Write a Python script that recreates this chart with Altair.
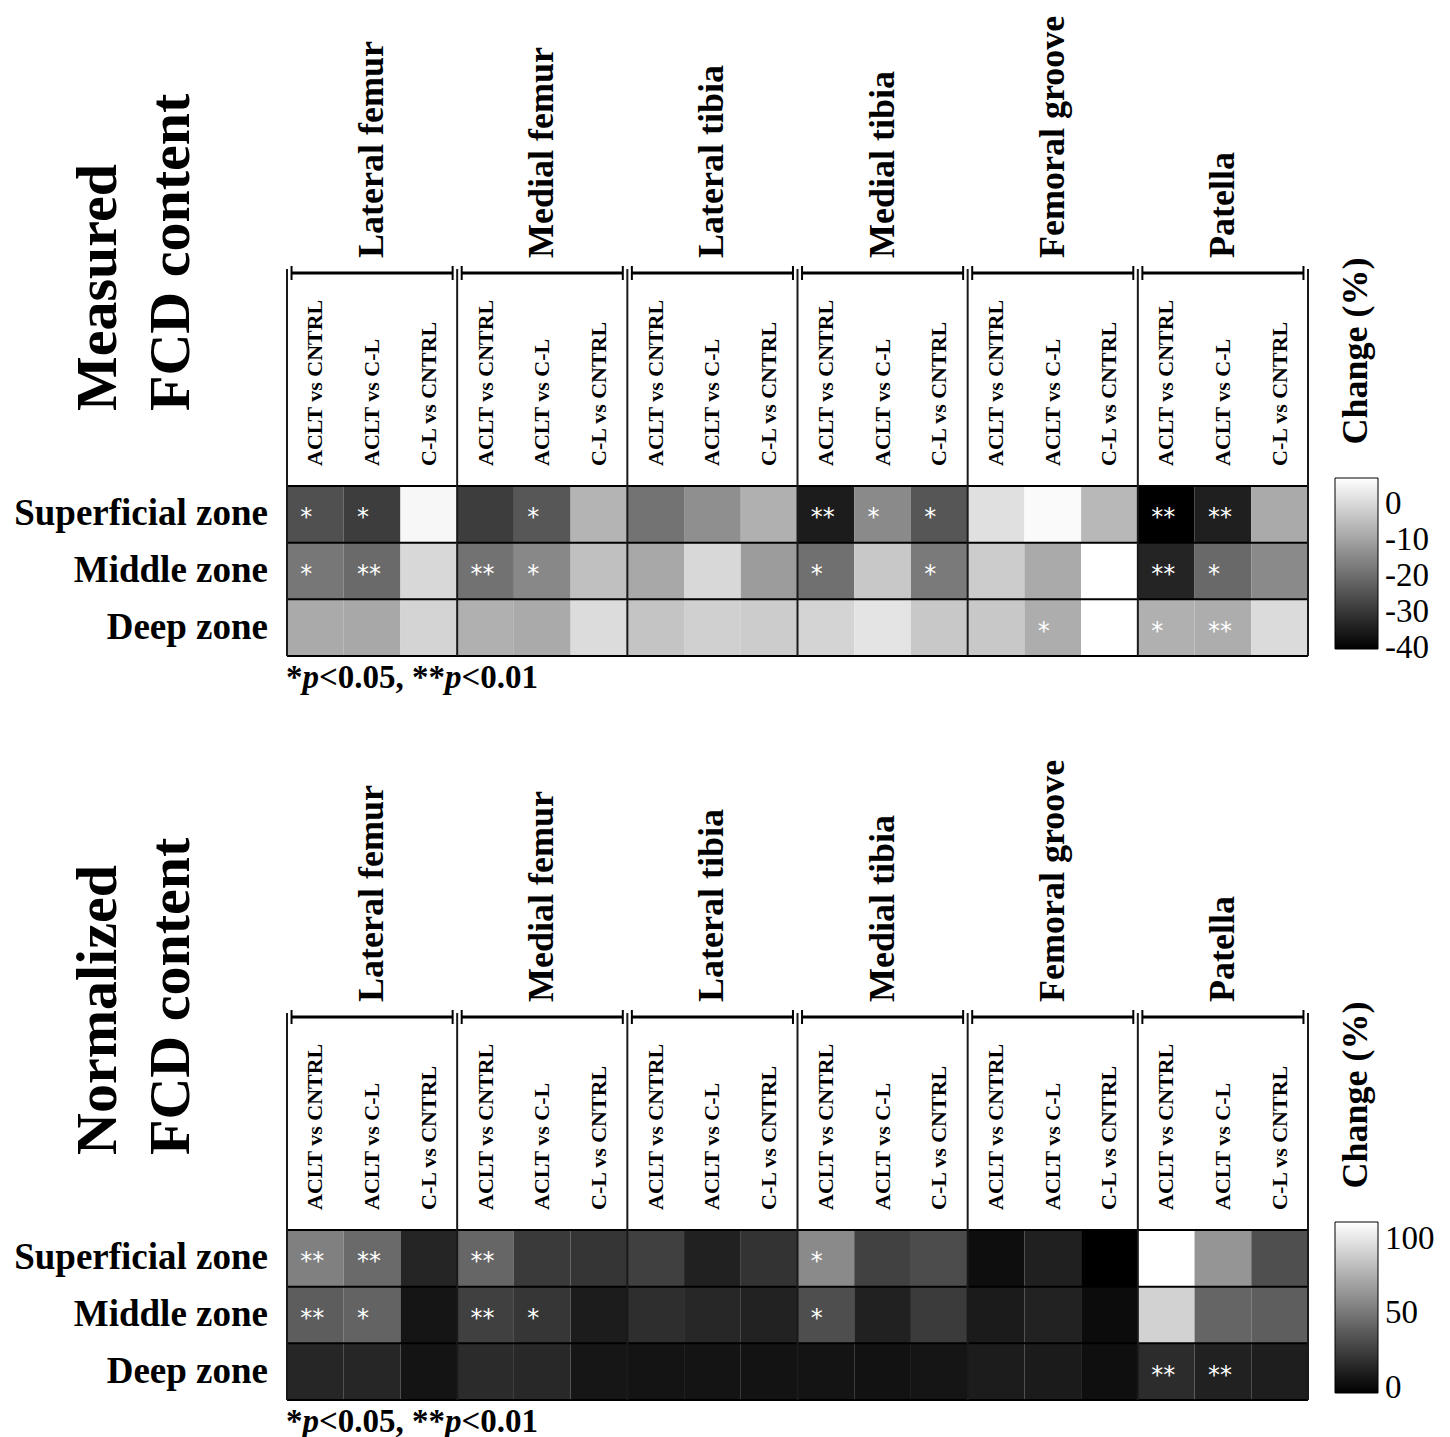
import altair as alt
import pandas as pd

# ---- categories -------------------------------------------------------------
REGIONS = ["Lateral femur", "Medial femur", "Lateral tibia",
           "Medial tibia", "Femoral groove", "Patella"]
COMPARISONS = ["ACLT vs CNTRL", "ACLT vs C-L", "C-L vs CNTRL"]
ZONES = ["Superficial zone", "Middle zone", "Deep zone"]

# ---- measured FCD content, change (%) ----------------------------------------
# 18 columns per zone: region x comparison, in the order above
MEASURED_SUPERFICIAL = [-25.4, -28.8, 5.7, -28.9, -24.0, -6.8, -18.8, -13.6, -7.6,
                        -35.0, -14.6, -24.3, 1.3, 6.1, -6.1, -40.2, -34.5, -8.7]
MEASURED_MIDDLE = [-18.1, -20.5, -0.2, -19.0, -14.9, -4.6, -9.0, -0.2, -11.2,
                   -19.4, -3.1, -17.5, -2.4, -8.7, 7.1, -33.5, -20.8, -14.6]
MEASURED_DEEP = [-8.7, -9.0, -0.9, -7.6, -8.7, 0.7, -3.9, -1.7, -2.4,
                 -0.9, 2.0, -3.1, -3.1, -8.1, 7.1, -7.6, -8.1, 0.5]

MEASURED_SIG_SUPERFICIAL = ["*", "*", "", "", "*", "", "", "", "",
                            "**", "*", "*", "", "", "", "**", "**", ""]
MEASURED_SIG_MIDDLE = ["*", "**", "", "**", "*", "", "", "", "",
                       "*", "", "*", "", "", "", "**", "*", ""]
MEASURED_SIG_DEEP = ["", "", "", "", "", "", "", "", "",
                     "", "", "", "", "*", "", "*", "**", ""]

# ---- normalized FCD content, change (%) --------------------------------------
NORMALIZED_SUPERFICIAL = [54.2, 44.3, 13.2, 42.5, 22.7, 20.4, 25.4, 11.4, 19.5,
                          58.7, 25.8, 30.8, 2.8, 10.9, -3.5, 111.5, 63.7, 32.1]
NORMALIZED_MIDDLE = [38.4, 41.1, 6.0, 25.4, 20.9, 9.1, 17.2, 14.1, 11.8,
                     31.7, 11.4, 23.1, 8.7, 11.8, 1.9, 91.2, 42.0, 38.9]
NORMALIZED_DEEP = [13.6, 13.6, 5.5, 15.9, 14.5, 6.4, 5.5, 5.5, 5.1,
                   5.5, 4.6, 6.0, 9.1, 8.7, 3.3, 16.3, 11.4, 10.0]

NORMALIZED_SIG_SUPERFICIAL = ["**", "**", "", "**", "", "", "", "", "",
                              "*", "", "", "", "", "", "", "", ""]
NORMALIZED_SIG_MIDDLE = ["**", "*", "", "**", "*", "", "", "", "",
                         "*", "", "", "", "", "", "", "", ""]
NORMALIZED_SIG_DEEP = ["", "", "", "", "", "", "", "", "",
                       "", "", "", "", "", "", "**", "**", ""]

MEASURED_TICKS = [0, -10, -20, -30, -40]
NORMALIZED_TICKS = [100, 50, 0]

# ---- layout ------------------------------------------------------------------
N_COMP = len(COMPARISONS)
N_COLS = len(REGIONS) * N_COMP
N_ROWS = len(ZONES)
PLOT_W = 1021
PLOT_H = 170
SERIF = "Liberation Serif"


def cell_table(rows, marks):
    recs = []
    for r, (vals, sig) in enumerate(zip(rows, marks)):
        for c, (v, s) in enumerate(zip(vals, sig)):
            recs.append(dict(row=r, row_end=r + 1, row_mid=r + 0.5,
                             col=c, col_end=c + 1, col_mid=c + 0.5,
                             region=REGIONS[c // N_COMP],
                             comparison=COMPARISONS[c % N_COMP],
                             zone=ZONES[r], change=v, sig=s))
    return pd.DataFrame(recs)


def text_at(label, x, y, **style):
    return alt.Chart(pd.DataFrame({"label": [label]})).mark_text(**style).encode(
        text="label:N", x=alt.value(x), y=alt.value(y))


def panel(title_lines, rows, marks, ticks):
    df = cell_table(rows, marks)
    lo, hi = float(df.change.min()), float(df.change.max())
    xs = alt.Scale(domain=[0, N_COLS], nice=False, zero=False)
    ys = alt.Scale(domain=[0, N_ROWS], nice=False, zero=False, reverse=True)

    def X(field):
        return alt.X(field, scale=xs, axis=None)

    def Y(field):
        return alt.Y(field, scale=ys, axis=None)

    legend = alt.Legend(
        orient="none", legendX=1048, legendY=-8, direction="vertical",
        gradientLength=171, gradientThickness=43, values=ticks,
        labelExpr="datum.value < 0 ? '-' + abs(datum.value) : '' + datum.value",
        labelFont=SERIF, labelFontSize=33, labelColor="black", labelOffset=7,
        labelBaseline="middle", labelOverlap=False,
        gradientStrokeColor="black", gradientStrokeWidth=1)

    cells = alt.Chart(df).mark_rect().encode(
        x=X("col:Q"), x2="col_end:Q",
        y=Y("row:Q"), y2="row_end:Q",
        color=alt.Color("change:Q", title=None, legend=legend,
                        scale=alt.Scale(domain=[lo, hi], range=["#000000", "#ffffff"],
                                        interpolate="rgb", nice=False, zero=False)),
    )

    stars = alt.Chart(df[df.sig != ""]).mark_text(
        align="left", baseline="middle", dx=-15, dy=4,
        font="DejaVu Sans", fontSize=24, color="white").encode(
        x=X("col_mid:Q"), y=Y("row_mid:Q"), text="sig:N")

    # comparison labels in the header box, one per column
    col_df = pd.DataFrame({"comparison": [COMPARISONS[c % N_COMP] for c in range(N_COLS)],
                           "x": [c + 0.5 for c in range(N_COLS)]})
    col_labels = alt.Chart(col_df).mark_text(
        angle=270, align="left", baseline="middle", font=SERIF,
        fontWeight="bold", fontSize=22, color="black").encode(
        x=X("x:Q"), y=alt.value(-20), text="comparison:N")

    # zone labels to the left of the rows
    row_df = pd.DataFrame({"zone": ZONES, "y": [r + 0.5 for r in range(N_ROWS)]})
    row_labels = alt.Chart(row_df).mark_text(
        align="right", baseline="middle", font=SERIF,
        fontWeight="bold", fontSize=37, color="black").encode(
        x=alt.value(-19), y=Y("y:Q"), text="zone:N")

    # horizontal borders between zones
    hl = pd.DataFrame({"y": list(range(N_ROWS + 1)), "x0": 0, "x1": N_COLS})
    hlines = alt.Chart(hl).mark_rule(color="black", strokeWidth=2).encode(
        x=X("x0:Q"), x2="x1:Q", y=Y("y:Q"))

    # vertical separators between regions, running up through the header box
    bounds = [g * N_COMP for g in range(len(REGIONS) + 1)]
    vl = pd.DataFrame({"x": bounds, "y": N_ROWS})
    vlines = alt.Chart(vl).mark_rule(color="#1a1a1a", strokeWidth=2).encode(
        x=X("x:Q"), y=Y("y:Q"), y2=alt.value(-217))

    # brackets under each region name
    inset = 0.08
    br = pd.DataFrame({"x0": [b + inset for b in bounds[:-1]],
                       "x1": [b - inset for b in bounds[1:]]})
    brackets = alt.Chart(br).mark_rule(color="black", strokeWidth=3).encode(
        x=X("x0:Q"), x2="x1:Q", y=alt.value(-213))
    caps = alt.Chart(pd.DataFrame({"x": list(br.x0) + list(br.x1)})).mark_rule(
        color="black", strokeWidth=2).encode(
        x=X("x:Q"), y=alt.value(-220), y2=alt.value(-206))

    gn = pd.DataFrame({"region": REGIONS,
                       "x": [g * N_COMP + N_COMP / 2 for g in range(len(REGIONS))]})
    names = alt.Chart(gn).mark_text(
        angle=270, align="left", baseline="middle", font=SERIF,
        fontWeight="bold", fontSize=36, color="black").encode(
        x=X("x:Q"), y=alt.value(-228), text="region:N")

    big = dict(angle=270, align="left", baseline="alphabetic", font=SERIF,
               fontWeight="bold", fontSize=58, color="black")
    title1 = text_at(title_lines[0], -171, -75, **big)
    title2 = text_at(title_lines[1], -98, -75, **big)

    cbar_title = text_at("Change (%)", 1069, -135, angle=270, align="center",
                         baseline="middle", font=SERIF, fontWeight="bold",
                         fontSize=36, color="black")

    # footnote: *p<0.05, **p<0.01 with italic p
    note = dict(align="left", baseline="middle", font=SERIF, fontWeight="bold",
                fontSize=33, color="black")
    pieces = [("*", "normal", -1), ("p", "italic", 15.5), ("<0.05, **", "normal", 32),
              ("p", "italic", 158), ("<0.01", "normal", 174.5)]
    foot = [text_at(t, x, PLOT_H + 22, fontStyle=st, **note) for t, st, x in pieces]

    return alt.layer(cells, stars, hlines, vlines, brackets, caps, names,
                     col_labels, row_labels, title1, title2, cbar_title,
                     *foot).properties(width=PLOT_W, height=PLOT_H)


top = panel(["Measured", "FCD content"],
            [MEASURED_SUPERFICIAL, MEASURED_MIDDLE, MEASURED_DEEP],
            [MEASURED_SIG_SUPERFICIAL, MEASURED_SIG_MIDDLE, MEASURED_SIG_DEEP],
            MEASURED_TICKS)
bottom = panel(["Normalized", "FCD content"],
               [NORMALIZED_SUPERFICIAL, NORMALIZED_MIDDLE, NORMALIZED_DEEP],
               [NORMALIZED_SIG_SUPERFICIAL, NORMALIZED_SIG_MIDDLE, NORMALIZED_SIG_DEEP],
               NORMALIZED_TICKS)

chart = (
    alt.vconcat(top, bottom, spacing=64)
    .resolve_scale(color="independent")
    .configure_view(strokeWidth=0)
    .properties(padding={"left": 14, "top": 15, "right": 5, "bottom": 5},
                background="white")
)

chart.save("out.html", embed_options={"renderer": "svg", "actions": False})
